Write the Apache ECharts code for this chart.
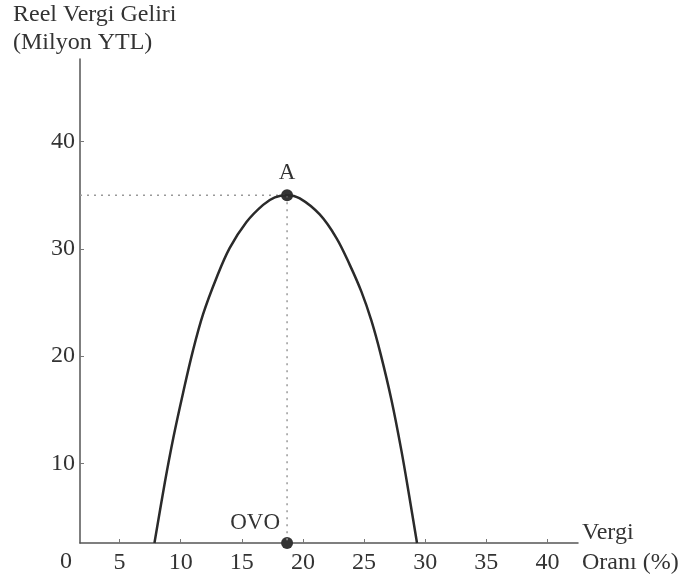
<!DOCTYPE html>
<html>
<head>
<meta charset="utf-8">
<script src="https://cdn.jsdelivr.net/npm/echarts@6/dist/echarts.min.js"></script>
<style>
html,body{margin:0;padding:0;background:#fff;}
#chart{width:695px;height:578px;}
</style>
</head>
<body>
<div id="chart"></div>
<script>
// Axis ranges (axes cross at xMin, yMin)
const xMin = 1.76, xMax = 42.5;
const yMin = 2.56, yMax = 47.7;
const xTicks = [5, 10, 15, 20, 25, 30, 35, 40];
const yTicks = [10, 20, 30, 40];
const originLabel = '0';
const xNameLines = ['Vergi', 'Oranı (%)'];
const yName = 'Reel Vergi Geliri\n(Milyon YTL)';

// Laffer curve
const curveX = [7.85, 8.7, 9.4, 10.2, 11.0, 11.83, 12.93, 14.0, 15.38, 16.74, 17.7, 18.7, 19.74, 21.37, 22.74, 23.83, 24.78, 25.6, 26.35, 27.24, 28.05, 28.7, 29.33];
const curveY = [2.56, 8.2, 12.4, 16.6, 20.5, 23.9, 27.3, 30.06, 32.5, 34.1, 34.8, 35.0, 34.7, 33.2, 31.0, 28.5, 26.0, 23.3, 20.2, 15.9, 11.2, 6.9, 2.56];

// Special points
const peakX = 18.7, peakY = 35;
const peakLabel = 'A';
const ovoLabel = 'OVO';

const serif = '"Liberation Serif", "DejaVu Serif", serif';
const textColor = '#333';
const fs = 24;

const chart = echarts.init(document.getElementById('chart'));
chart.setOption({
  animation: false,
  backgroundColor: '#fff',
  title: {
    text: yName,
    left: 13, top: 1, padding: 0,
    textStyle: { fontFamily: serif, fontSize: fs, fontWeight: 'normal', color: textColor, lineHeight: 28 }
  },
  grid: { left: 80, right: 117, top: 59, bottom: 35, containLabel: false, outerBoundsMode: 'none' },
  xAxis: {
    type: 'value', min: xMin, max: xMax,
    name: '{s| }\n{b|' + xNameLines[0] + '}\n{b|' + xNameLines[1] + '}',
    nameLocation: 'end', nameGap: 4,
    nameTextStyle: {
      fontFamily: serif, fontSize: fs, color: textColor, align: 'left', verticalAlign: 'middle',
      rich: {
        s: { fontSize: 4, lineHeight: 10 },
        b: { fontFamily: serif, fontSize: fs, color: textColor, lineHeight: 30 }
      }
    },
    axisLine: { show: true, onZero: false, lineStyle: { color: '#555', width: 1.5 } },
    axisTick: { show: true, inside: true, length: 4, customValues: xTicks, lineStyle: { color: '#777', width: 1 } },
    axisLabel: { customValues: xTicks, fontFamily: serif, fontSize: fs, color: textColor, margin: 8 },
    splitLine: { show: false }
  },
  yAxis: {
    type: 'value', min: yMin, max: yMax,
    axisLine: { show: true, onZero: false, lineStyle: { color: '#555', width: 1.5 } },
    axisTick: { show: true, inside: true, length: 4, customValues: yTicks, lineStyle: { color: '#777', width: 1 } },
    axisLabel: { customValues: yTicks, fontFamily: serif, fontSize: fs, color: textColor, margin: 5 },
    splitLine: { show: false }
  },
  graphic: [{
    type: 'text', left: 60, top: 550,
    style: { text: originLabel, font: fs + 'px ' + serif, fill: textColor }
  }],
  series: [
    {
      type: 'line', name: 'guideH', silent: true, symbol: 'none',
      data: [[xMin, peakY], [peakX, peakY]],
      lineStyle: { color: '#999', width: 1.5, type: [2, 5] }
    },
    {
      type: 'line', name: 'guideV', silent: true, symbol: 'none',
      data: [[peakX, peakY], [peakX, yMin]],
      lineStyle: { color: '#999', width: 1.5, type: [2, 5] }
    },
    {
      type: 'line', name: 'curve', smooth: 0.35, symbol: 'none',
      data: curveX.map((x, i) => [x, curveY[i]]),
      lineStyle: { color: '#2a2a2a', width: 2.5 }
    },
    {
      type: 'scatter', name: 'points', symbolSize: 12, clip: false,
      itemStyle: { color: '#333', opacity: 1 },
      data: [
        { value: [peakX, peakY], label: { show: true, formatter: peakLabel, position: 'top', distance: 5, color: textColor, fontFamily: serif, fontSize: fs - 1 } },
        { value: [peakX, yMin], label: { show: true, formatter: ovoLabel, position: 'left', distance: 1, offset: [0, -20], color: textColor, fontFamily: serif, fontSize: fs - 1 } }
      ]
    }
  ]
});
</script>
</body>
</html>
